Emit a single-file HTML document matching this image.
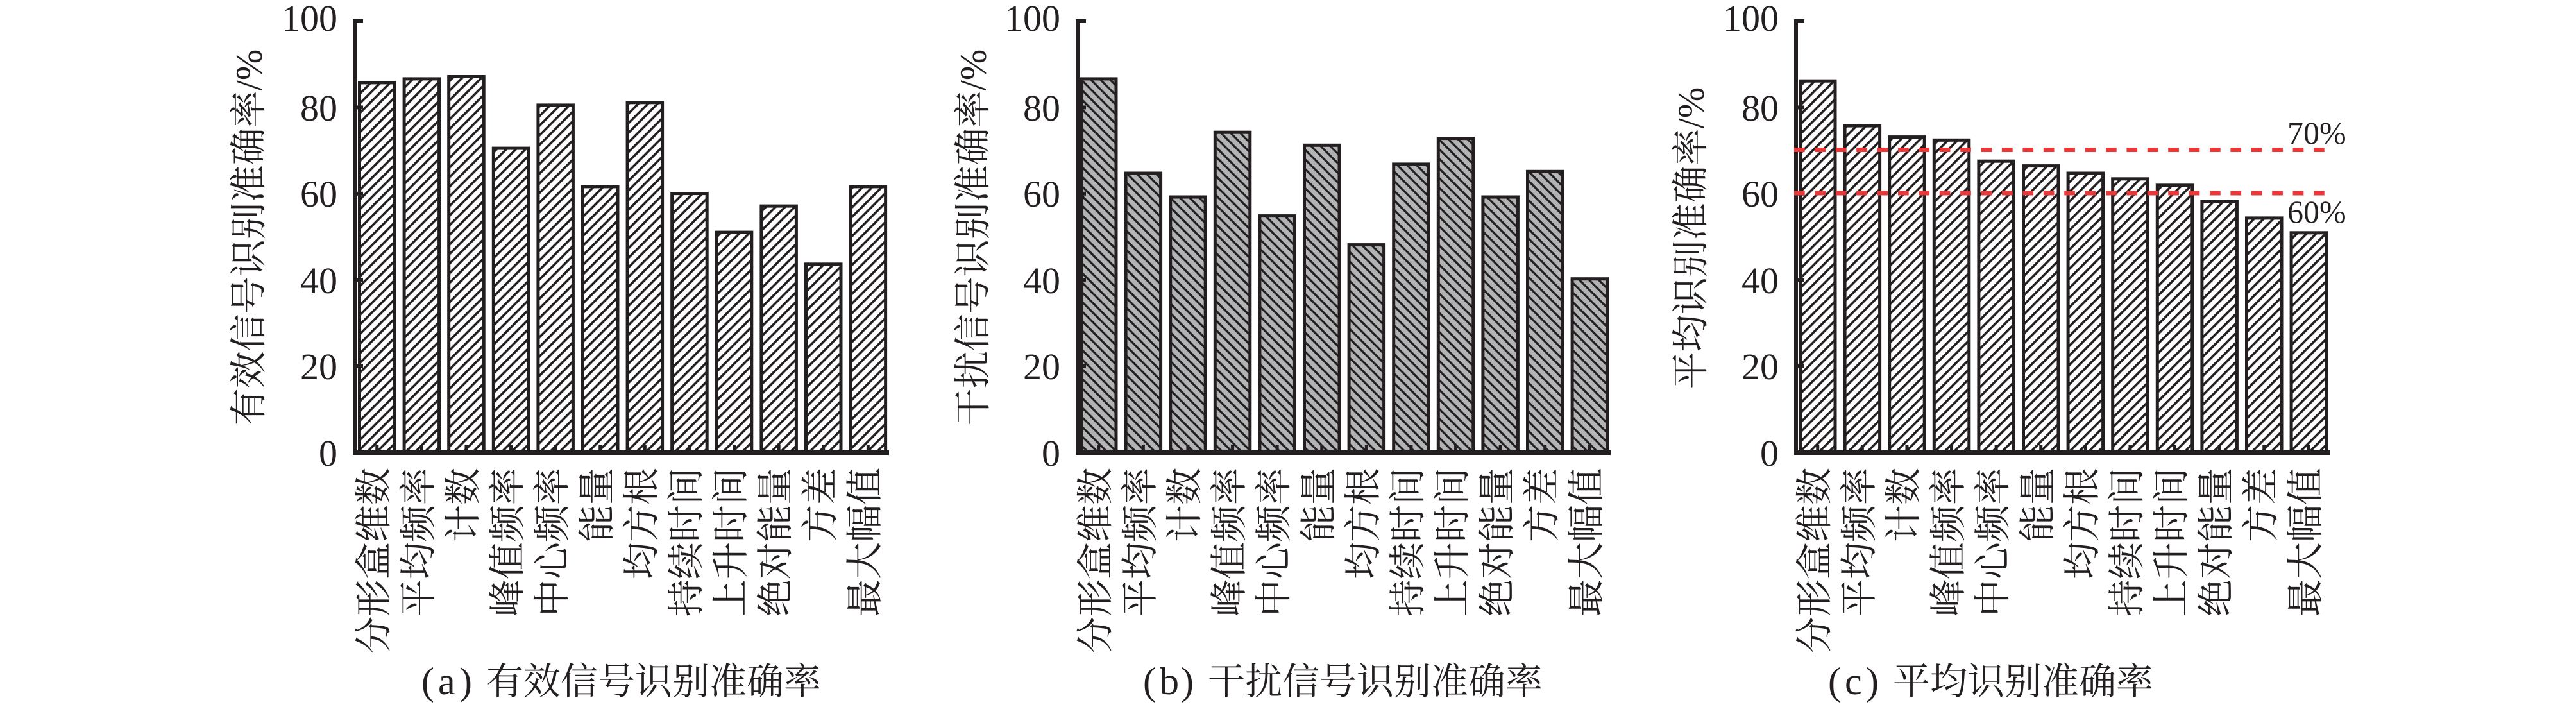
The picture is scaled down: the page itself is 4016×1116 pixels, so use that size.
<!DOCTYPE html>
<html><head><meta charset="utf-8"><style>
html,body{margin:0;padding:0;background:#fff;}
svg{display:block;}
text{fill:#231f20;font-family:"Liberation Serif","Noto Serif CJK SC",serif;}
.yl{font-size:58px;text-anchor:end;}
.xl{font-size:58px;text-anchor:end;dominant-baseline:central;}
.tt{font-size:58px;text-anchor:middle;dominant-baseline:central;}
.cap{font-size:58px;letter-spacing:0px;}
.capl{font-size:60px;}
</style></head><body>
<svg width="4016" height="1116" viewBox="0 0 4016 1116" xmlns="http://www.w3.org/2000/svg">
<defs>
<pattern id="hw" patternUnits="userSpaceOnUse" width="10.6" height="10.6" patternTransform="rotate(45)">
<rect width="10.6" height="10.6" fill="#fff"/><rect x="0" y="0" width="3.6" height="10.6" fill="#231f20"/>
</pattern>
<pattern id="hg" patternUnits="userSpaceOnUse" width="10.6" height="10.6" patternTransform="rotate(-45)">
<rect width="10.6" height="10.6" fill="#b2b3b5"/><rect x="0" y="0" width="3.3" height="10.6" fill="#231f20"/>
</pattern>
</defs>
<rect width="4016" height="1116" fill="#fff"/>

<!-- ============ Chart A ============ -->
<g>
<g fill="url(#hw)" stroke="#231f20" stroke-width="5">
<rect x="560.5" y="128.9" width="54.5" height="575.1"/>
<rect x="630.1" y="122.9" width="54.5" height="581.1"/>
<rect x="699.7" y="119.5" width="54.5" height="584.5"/>
<rect x="769.3" y="231.1" width="54.5" height="472.9"/>
<rect x="838.9" y="163.9" width="54.5" height="540.1"/>
<rect x="908.5" y="290.9" width="54.5" height="413.1"/>
<rect x="978.1" y="159.8" width="54.5" height="544.2"/>
<rect x="1047.7" y="301.6" width="54.5" height="402.4"/>
<rect x="1117.3" y="362.1" width="54.5" height="341.9"/>
<rect x="1186.9" y="321.1" width="54.5" height="382.9"/>
<rect x="1256.5" y="411.8" width="54.5" height="292.2"/>
<rect x="1326.1" y="290.9" width="54.5" height="413.1"/>
</g>
<g fill="#231f20">
<rect x="550" y="30" width="6" height="679"/>
<rect x="550" y="702" width="836" height="7"/>
<rect x="556" y="567.6" width="10" height="6"/>
<rect x="556" y="433.2" width="10" height="6"/>
<rect x="556" y="298.8" width="10" height="6"/>
<rect x="556" y="164.4" width="10" height="6"/>
<rect x="556" y="30" width="10" height="6"/>
<rect x="585.25" y="693" width="5" height="9"/>
<rect x="654.85" y="693" width="5" height="9"/>
<rect x="724.45" y="693" width="5" height="9"/>
<rect x="794.05" y="693" width="5" height="9"/>
<rect x="863.65" y="693" width="5" height="9"/>
<rect x="933.25" y="693" width="5" height="9"/>
<rect x="1002.85" y="693" width="5" height="9"/>
<rect x="1072.45" y="693" width="5" height="9"/>
<rect x="1142.05" y="693" width="5" height="9"/>
<rect x="1211.65" y="693" width="5" height="9"/>
<rect x="1281.25" y="693" width="5" height="9"/>
<rect x="1350.85" y="693" width="5" height="9"/>
</g>
<text class="yl" x="526" y="726">0</text>
<text class="yl" x="526" y="591">20</text>
<text class="yl" x="526" y="457">40</text>
<text class="yl" x="526" y="322">60</text>
<text class="yl" x="526" y="188">80</text>
<text class="yl" x="526" y="48">100</text>
<text class="tt" transform="translate(388,370) rotate(-90)">有效信号识别准确率/%</text>
<text class="xl" transform="translate(582.75,729) rotate(-90)">分形盒维数</text>
<text class="xl" transform="translate(652.35,729) rotate(-90)">平均频率</text>
<text class="xl" transform="translate(721.95,729) rotate(-90)">计数</text>
<text class="xl" transform="translate(791.55,729) rotate(-90)">峰值频率</text>
<text class="xl" transform="translate(861.15,729) rotate(-90)">中心频率</text>
<text class="xl" transform="translate(930.75,729) rotate(-90)">能量</text>
<text class="xl" transform="translate(1000.35,729) rotate(-90)">均方根</text>
<text class="xl" transform="translate(1069.95,729) rotate(-90)">持续时间</text>
<text class="xl" transform="translate(1139.55,729) rotate(-90)">上升时间</text>
<text class="xl" transform="translate(1209.15,729) rotate(-90)">绝对能量</text>
<text class="xl" transform="translate(1278.75,729) rotate(-90)">方差</text>
<text class="xl" transform="translate(1348.35,729) rotate(-90)">最大幅值</text>
<text class="capl" x="657 683 716" y="1082">(a)</text>
<text class="cap" x="758" y="1082">有效信号识别准确率</text>
</g>

<!-- ============ Chart B ============ -->
<g>
<g fill="url(#hg)" stroke="#231f20" stroke-width="5">
<rect x="1685.5" y="122.9" width="54.5" height="581.1"/>
<rect x="1755.1" y="270" width="54.5" height="434"/>
<rect x="1824.7" y="307" width="54.5" height="397"/>
<rect x="1894.3" y="206.2" width="54.5" height="497.8"/>
<rect x="1963.9" y="336.6" width="54.5" height="367.4"/>
<rect x="2033.5" y="226.3" width="54.5" height="477.7"/>
<rect x="2103.1" y="381.6" width="54.5" height="322.4"/>
<rect x="2172.7" y="255.9" width="54.5" height="448.1"/>
<rect x="2242.3" y="215.6" width="54.5" height="488.4"/>
<rect x="2311.9" y="307" width="54.5" height="397"/>
<rect x="2381.5" y="267.3" width="54.5" height="436.7"/>
<rect x="2451.1" y="434.7" width="54.5" height="269.3"/>
</g>
<g fill="#231f20">
<rect x="1677" y="30" width="6" height="679"/>
<rect x="1677" y="702" width="834" height="7"/>
<rect x="1683" y="567.6" width="10" height="6"/>
<rect x="1683" y="433.2" width="10" height="6"/>
<rect x="1683" y="298.8" width="10" height="6"/>
<rect x="1683" y="164.4" width="10" height="6"/>
<rect x="1683" y="30" width="10" height="6"/>
<rect x="1710.25" y="693" width="5" height="9"/>
<rect x="1779.85" y="693" width="5" height="9"/>
<rect x="1849.45" y="693" width="5" height="9"/>
<rect x="1919.05" y="693" width="5" height="9"/>
<rect x="1988.65" y="693" width="5" height="9"/>
<rect x="2058.25" y="693" width="5" height="9"/>
<rect x="2127.85" y="693" width="5" height="9"/>
<rect x="2197.45" y="693" width="5" height="9"/>
<rect x="2267.05" y="693" width="5" height="9"/>
<rect x="2336.65" y="693" width="5" height="9"/>
<rect x="2406.25" y="693" width="5" height="9"/>
<rect x="2475.85" y="693" width="5" height="9"/>
</g>
<text class="yl" x="1653" y="726">0</text>
<text class="yl" x="1653" y="591">20</text>
<text class="yl" x="1653" y="457">40</text>
<text class="yl" x="1653" y="322">60</text>
<text class="yl" x="1653" y="188">80</text>
<text class="yl" x="1653" y="48">100</text>
<text class="tt" transform="translate(1517,370) rotate(-90)">干扰信号识别准确率/%</text>
<text class="xl" transform="translate(1707.75,729) rotate(-90)">分形盒维数</text>
<text class="xl" transform="translate(1777.35,729) rotate(-90)">平均频率</text>
<text class="xl" transform="translate(1846.95,729) rotate(-90)">计数</text>
<text class="xl" transform="translate(1916.55,729) rotate(-90)">峰值频率</text>
<text class="xl" transform="translate(1986.15,729) rotate(-90)">中心频率</text>
<text class="xl" transform="translate(2055.75,729) rotate(-90)">能量</text>
<text class="xl" transform="translate(2125.35,729) rotate(-90)">均方根</text>
<text class="xl" transform="translate(2194.95,729) rotate(-90)">持续时间</text>
<text class="xl" transform="translate(2264.55,729) rotate(-90)">上升时间</text>
<text class="xl" transform="translate(2334.15,729) rotate(-90)">绝对能量</text>
<text class="xl" transform="translate(2403.75,729) rotate(-90)">方差</text>
<text class="xl" transform="translate(2473.35,729) rotate(-90)">最大幅值</text>
<text class="capl" x="1782 1808 1841" y="1082">(b)</text>
<text class="cap" x="1883" y="1082">干扰信号识别准确率</text>
</g>

<!-- ============ Chart C ============ -->
<g>
<g fill="url(#hw)" stroke="#231f20" stroke-width="5">
<rect x="2806.5" y="126.2" width="54.5" height="577.8"/>
<rect x="2876.1" y="196.1" width="54.5" height="507.9"/>
<rect x="2945.7" y="213.6" width="54.5" height="490.4"/>
<rect x="3015.3" y="218.3" width="54.5" height="485.7"/>
<rect x="3084.9" y="251.2" width="54.5" height="452.8"/>
<rect x="3154.5" y="258.6" width="54.5" height="445.4"/>
<rect x="3224.1" y="270" width="54.5" height="434"/>
<rect x="3293.7" y="278.8" width="54.5" height="425.2"/>
<rect x="3363.3" y="288.8" width="54.5" height="415.2"/>
<rect x="3432.9" y="314.4" width="54.5" height="389.6"/>
<rect x="3502.5" y="339.9" width="54.5" height="364.1"/>
<rect x="3572.1" y="362.8" width="54.5" height="341.2"/>
</g>
<g fill="#231f20">
<rect x="2797" y="30" width="6" height="679"/>
<rect x="2797" y="702" width="835" height="7"/>
<rect x="2803" y="567.6" width="10" height="6"/>
<rect x="2803" y="433.2" width="10" height="6"/>
<rect x="2803" y="298.8" width="10" height="6"/>
<rect x="2803" y="164.4" width="10" height="6"/>
<rect x="2803" y="30" width="10" height="6"/>
<rect x="2831.25" y="693" width="5" height="9"/>
<rect x="2900.85" y="693" width="5" height="9"/>
<rect x="2970.45" y="693" width="5" height="9"/>
<rect x="3040.05" y="693" width="5" height="9"/>
<rect x="3109.65" y="693" width="5" height="9"/>
<rect x="3179.25" y="693" width="5" height="9"/>
<rect x="3248.85" y="693" width="5" height="9"/>
<rect x="3318.45" y="693" width="5" height="9"/>
<rect x="3388.05" y="693" width="5" height="9"/>
<rect x="3457.65" y="693" width="5" height="9"/>
<rect x="3527.25" y="693" width="5" height="9"/>
<rect x="3596.85" y="693" width="5" height="9"/>
</g>
<line x1="2797" y1="233.5" x2="3624" y2="233.5" stroke="#e8383a" stroke-width="7" stroke-dasharray="16.7 15.7"/>
<line x1="2797" y1="301" x2="3624" y2="301" stroke="#e8383a" stroke-width="7" stroke-dasharray="16.7 15.7"/>
<text x="3566" y="224" style="font-size:50px">70%</text>
<text x="3566" y="347" style="font-size:50px">60%</text>
<text class="yl" x="2773" y="726">0</text>
<text class="yl" x="2773" y="591">20</text>
<text class="yl" x="2773" y="457">40</text>
<text class="yl" x="2773" y="322">60</text>
<text class="yl" x="2773" y="188">80</text>
<text class="yl" x="2773" y="48">100</text>
<text class="tt" transform="translate(2636,371) rotate(-90)">平均识别准确率/%</text>
<text class="xl" transform="translate(2828.75,729) rotate(-90)">分形盒维数</text>
<text class="xl" transform="translate(2898.35,729) rotate(-90)">平均频率</text>
<text class="xl" transform="translate(2967.95,729) rotate(-90)">计数</text>
<text class="xl" transform="translate(3037.55,729) rotate(-90)">峰值频率</text>
<text class="xl" transform="translate(3107.15,729) rotate(-90)">中心频率</text>
<text class="xl" transform="translate(3176.75,729) rotate(-90)">能量</text>
<text class="xl" transform="translate(3246.35,729) rotate(-90)">均方根</text>
<text class="xl" transform="translate(3315.95,729) rotate(-90)">持续时间</text>
<text class="xl" transform="translate(3385.55,729) rotate(-90)">上升时间</text>
<text class="xl" transform="translate(3455.15,729) rotate(-90)">绝对能量</text>
<text class="xl" transform="translate(3524.75,729) rotate(-90)">方差</text>
<text class="xl" transform="translate(3594.35,729) rotate(-90)">最大幅值</text>
<text class="capl" x="2850 2876 2909" y="1082">(c)</text>
<text class="cap" x="2951" y="1082">平均识别准确率</text>
</g>
</svg>
</body></html>
